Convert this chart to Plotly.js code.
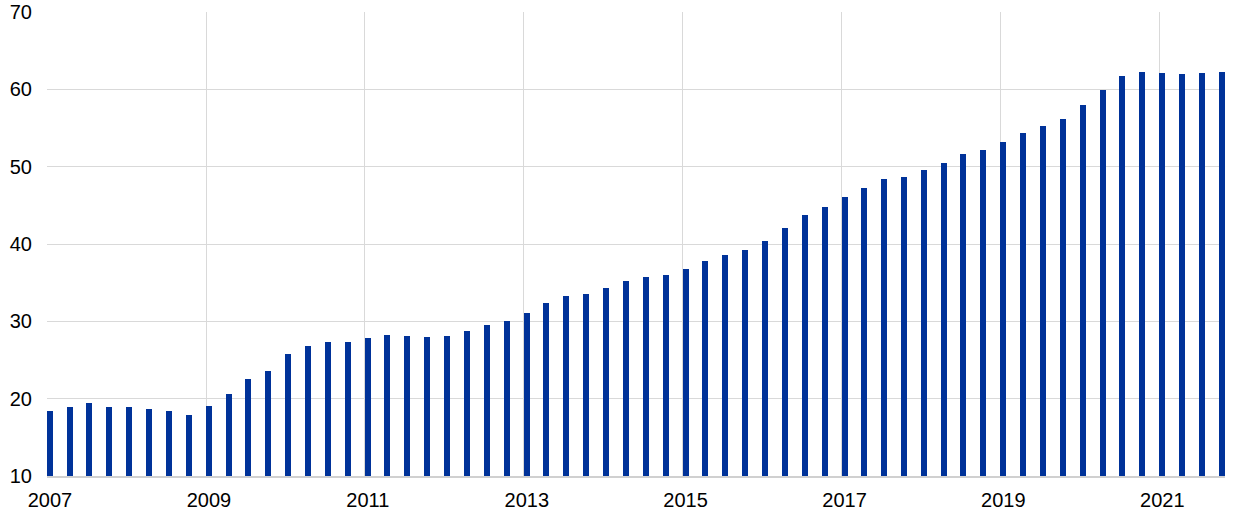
<!DOCTYPE html>
<html>
<head>
<meta charset="utf-8">
<script src="https://cdn.plot.ly/plotly-3.0.1.min.js"></script>
<style>
  html, body { margin: 0; padding: 0; background: #ffffff; }
  #chart { width: 1240px; height: 518px; }
</style>
</head>
<body>
<div id="chart"></div>
<script>
// Quarterly observations, 2007 Q1 – 2021 Q4
const quarters = [];
for (let y = 2007; y <= 2021; y++) {
  for (let q = 1; q <= 4; q++) quarters.push(y + "-Q" + q);
}

const values = [
  18.45, 18.97, 19.48, 18.88, 18.88, 18.67, 18.45, 17.93,
  19.06, 20.6, 22.5, 23.53, 25.73, 26.81, 27.32, 27.32,
  27.8, 28.19, 28.1, 27.93, 28.15, 28.71, 29.57, 30.0,
  31.12, 32.37, 33.24, 33.5, 34.37, 35.18, 35.7, 35.95,
  36.77, 37.76, 38.62, 39.18, 40.39, 42.07, 43.71, 44.74,
  46.04, 47.2, 48.41, 48.71, 49.57, 50.48, 51.64, 52.12,
  53.19, 54.31, 55.3, 56.12, 58.02, 59.92, 61.73, 62.2,
  62.1, 61.98, 62.1, 62.2
];

const yTicks = [10, 20, 30, 40, 50, 60, 70];

// quarter label -> first day of quarter (date axis position)
const qDates = quarters.map(function (s) {
  const yr = s.slice(0, 4);
  const q = parseInt(s.slice(6), 10);
  const m = String((q - 1) * 3 + 1).padStart(2, "0");
  return yr + "-" + m + "-01";
});

const DAY = 86400000;

const trace = {
  type: "bar",
  x: qDates,
  y: values,
  width: 27.7 * DAY,
  offset: 0,
  marker: { color: "#003299", line: { width: 0 } },
  hoverinfo: "x+y"
};

const layout = {
  width: 1240,
  height: 518,
  margin: { l: 47, r: 15, t: 12, b: 42 },
  paper_bgcolor: "#ffffff",
  plot_bgcolor: "#ffffff",
  showlegend: false,
  font: { family: "Liberation Sans, Arial, sans-serif", size: 20, color: "#000000" },
  xaxis: {
    type: "date",
    range: ["2007-01-01", "2021-10-30"],
    tick0: "2007-01-01",
    dtick: "M24",
    tickformat: "%Y",
    ticklabelshift: 3,
    ticklabelstandoff: 5,
    showgrid: true,
    gridcolor: "#d9d9d9",
    gridwidth: 1,
    showline: true,
    linecolor: "#d0d0d0",
    linewidth: 2,
    zeroline: false,
    ticks: "",
    tickfont: { size: 20, color: "#000000" }
  },
  yaxis: {
    range: [10, 70],
    tickvals: yTicks,
    ticktext: yTicks.map(String),
    ticklabelstandoff: 14,
    showgrid: true,
    gridcolor: "#d9d9d9",
    gridwidth: 1,
    showline: false,
    zeroline: false,
    ticks: "",
    tickfont: { size: 20, color: "#000000" }
  },
  bargap: 0
};

Plotly.newPlot("chart", [trace], layout, { displayModeBar: false, staticPlot: true });
</script>
</body>
</html>
